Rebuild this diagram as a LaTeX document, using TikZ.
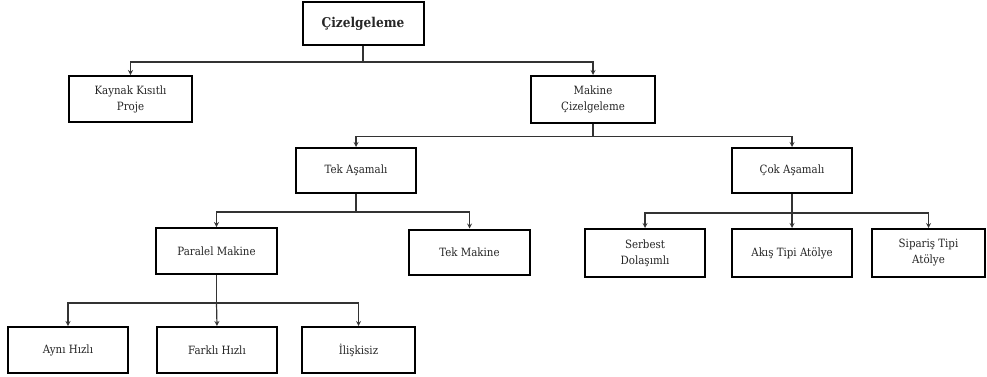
\documentclass[tikz,border=0pt]{standalone}
\usepackage{fontspec}
\setmainfont{DejaVu Serif Condensed}
\usepackage{tikz}

\begin{document}
\begin{tikzpicture}[>=stealth, x=1pt, y=-1pt,
    box/.style={draw=black, line width=2pt, fill=white, align=center,
      minimum width=120pt, minimum height=45pt, inner sep=2pt,
      font=\fontsize{11.4}{16}\selectfont, text=black!85},
    link/.style={draw=black!80, line width=1.2pt}]
  \useasboundingbox (0,0) rectangle (987,376);
  % levels
  \node[box, minimum width=121pt, minimum height=43pt, font=\fontsize{13.5}{16}\bfseries] (cizelge) at (363,23.5) {Çizelgeleme};
  \node[box, minimum width=123pt, minimum height=46pt] (kaynak) at (130.5,99) {Kaynak Kısıtlı\\Proje};
  \node[box, minimum width=124pt, minimum height=47pt] (makine) at (593,99.5) {Makine\\Çizelgeleme};
  \node[box] (tek) at (356,170.5) {Tek Aşamalı};
  \node[box] (cok) at (792,170.5) {Çok Aşamalı};
  \node[box, minimum width=121pt, minimum height=46pt] (paralel) at (216.5,251) {Paralel Makine};
  \node[box, minimum width=121pt] (tekmak) at (469.5,252) {Tek Makine};
  \node[box, minimum height=48pt] (serbest) at (645,253) {Serbest\\Dolaşımlı};
  \node[box, minimum height=48pt] (akis) at (792,253) {Akış Tipi Atölye};
  \node[box, minimum width=113pt, minimum height=48pt] (siparis) at (928.5,253) {Sipariş Tipi\\Atölye};
  \node[box, minimum height=46pt] (ayni) at (68,350) {Aynı Hızlı};
  \node[box, minimum height=46pt] (farkli) at (217,350) {Farklı Hızlı};
  \node[box, minimum width=113pt, minimum height=46pt] (iliskisiz) at (358.5,350) {İlişkisiz};
  % connectors
  \draw[link] (cizelge.south) -- ++(0,16) coordinate (c1);
  \draw[link,->] (c1) -| (kaynak.north);
  \draw[link,->] (c1) -| (makine.north);
  \draw[link] (makine.south) -- ++(0,12.5) coordinate (c2);
  \draw[link,->] (c2) -| (tek.north);
  \draw[link,->] (c2) -| (cok.north);
  \draw[link] (tek.south) -- ++(0,18) coordinate (c3);
  \draw[link,->] (c3) -| (paralel.north);
  \draw[link,->] (c3) -| (tekmak.north);
  \draw[link] (cok.south) -- ++(0,19) coordinate (c4);
  \draw[link,->] (c4) -| (serbest.north);
  \draw[link,->] (c4) -- (akis.north);
  \draw[link,->] (c4) -| (siparis.north);
  \draw[link] (paralel.south) -- ++(0,28) coordinate (c5);
  \draw[link,->] (c5) -| (ayni.north);
  \draw[link,->] (c5) -- (farkli.north);
  \draw[link,->] (c5) -| (iliskisiz.north);
\end{tikzpicture}
\end{document}
